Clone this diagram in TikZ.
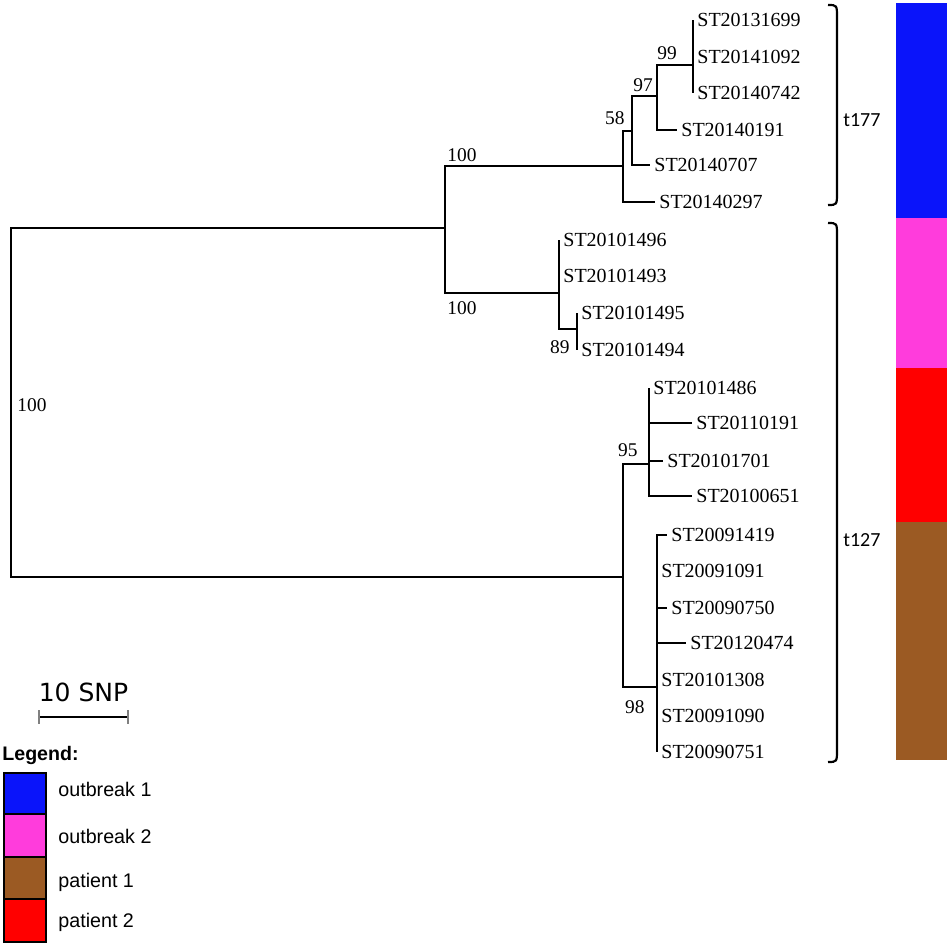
\documentclass[tikz,border=0pt]{standalone}
\usepackage{fontspec}
\setmainfont{Liberation Serif}
\newfontfamily\legfont{Liberation Sans}
\newfontfamily\typefont{Carlito}
\newfontfamily\barfont{DejaVu Sans}
\definecolor{outbrkA}{RGB}{10,20,250}
\definecolor{outbrkB}{RGB}{255,60,220}
\definecolor{patA}{RGB}{155,90,35}
\definecolor{patB}{RGB}{255,0,0}
\tikzset{
    branch/.style={line width=1pt},
    leaf/.style={anchor=west, inner sep=2pt, font=\fontsize{10}{12}\selectfont},
    bs/.style={inner sep=2pt, font=\fontsize{9.7}{11}\selectfont},
    brace/.style={line width=1.1pt},
    typelbl/.style={anchor=west, inner sep=0pt, font=\typefont\fontsize{10}{12}\selectfont},
    lgbox/.style={draw, line width=0.7pt},
    lgtext/.style={anchor=base west, inner sep=0pt, font=\legfont\fontsize{9.85}{12}\selectfont}
}

\begin{document}
\begin{tikzpicture}[x=0.5pt,y=-0.5pt]
            \useasboundingbox (0,0) rectangle (950,947);
            \coordinate (root) at (11,400);
            \coordinate (nA) at (445,228);
            \coordinate (n177) at (623,166);
            \coordinate (n58) at (632,131);
            \coordinate (n97) at (657,96);
            \coordinate (n99) at (693,65);
            \coordinate (nB) at (559,293);
            \coordinate (n89) at (577,329);
            \coordinate (n127) at (623,577);
            \coordinate (n95) at (649,464);
            \coordinate (n98) at (657,687);

            \node[leaf] (s1699) at (693,20) {ST20131699};
            \node[leaf] (s1092) at (693,57) {ST20141092};
            \node[leaf] (s0742) at (693,93) {ST20140742};
            \node[leaf] (s0191) at (677,130) {ST20140191};
            \node[leaf] (s0707) at (650,165) {ST20140707};
            \node[leaf] (s0297) at (655,202) {ST20140297};
            \node[leaf] (s1496) at (559,240) {ST20101496};
            \node[leaf] (s1493) at (559,276) {ST20101493};
            \node[leaf] (s1495) at (577,313) {ST20101495};
            \node[leaf] (s1494) at (577,350) {ST20101494};
            \node[leaf] (s1486) at (649,388) {ST20101486};
            \node[leaf] (s10191) at (692,423) {ST20110191};
            \node[leaf] (s1701) at (663,461) {ST20101701};
            \node[leaf] (s0651) at (692,496) {ST20100651};
            \node[leaf] (s1419) at (667,535) {ST20091419};
            \node[leaf] (s1091) at (657,571) {ST20091091};
            \node[leaf] (s0750) at (667,608) {ST20090750};
            \node[leaf] (s0474) at (686,643) {ST20120474};
            \node[leaf] (s1308) at (657,680) {ST20101308};
            \node[leaf] (s1090) at (657,716) {ST20091090};
            \node[leaf] (s0751) at (657,752) {ST20090751};

            \foreach \p/\c in {root/nA, root/n127, nA/n177, nA/nB, n177/n58, n58/n97,
                n97/n99, nB/n89, n127/n95, n127/n98}
                \draw[branch] (\p) |- (\c);
            \foreach \p/\c in {n99/s1699, n99/s1092, n99/s0742, n97/s0191, n58/s0707,
                n177/s0297, nB/s1496, nB/s1493, n89/s1495, n89/s1494, n95/s1486,
                n95/s10191, n95/s1701, n95/s0651, n98/s1419, n98/s1091, n98/s0750,
                n98/s0474, n98/s1308, n98/s1090, n98/s0751}
                \draw[branch] (\p) |- (\c.west);

            \node[bs, anchor=west] (b0) at (13,405) {100};
            \node[bs, anchor=south west] (bA) at (443,166) {100};
            \node[bs, anchor=north west] (bB) at (443,297) {100};
            \node[bs, anchor=south east] (b58) at (629,129) {58};
            \node[bs, anchor=south west] (b97) at (629,96) {97};
            \node[bs, anchor=south west] (b99) at (653,64) {99};
            \node[bs, anchor=east] (b89) at (574,347) {89};
            \node[bs, anchor=south east] (b95) at (642,461) {95};
            \node[bs, anchor=north east] (b98) at (649,696) {98};

            \draw[brace] (828,5) .. controls (837,5) .. (837,18) -- (837,192)
                .. controls (837,205) .. (828,205);
            \draw[brace] (828,223) .. controls (837,223) .. (837,236) -- (837,749)
                .. controls (837,762) .. (828,762);
            \node[typelbl] (t177) at (843,120) {t177};
            \node[typelbl] (t127) at (843,540) {t127};

            \fill[outbrkA] (896,3) rectangle (947,218);
            \fill[outbrkB] (896,218) rectangle (947,368);
            \fill[patB] (896,368) rectangle (947,522);
            \fill[patA] (896,522) rectangle (947,760);

            \node[font=\barfont\fontsize{12.5}{14}\selectfont, inner sep=0pt] (snp) at (83.5,692) {10 SNP};
            \draw[line width=1pt] (39,717) -- (128,717);
            \draw[gray, line width=0.8pt] (39,710) -- (39,724) (128,710) -- (128,724);

            \node[lgtext, font=\legfont\bfseries\fontsize{9.8}{12}\selectfont] (leg) at (2,761) {Legend:};
            \draw[lgbox, fill=outbrkA] (4,773) rectangle (46,814);
            \draw[lgbox, fill=outbrkB] (4,814) rectangle (46,857);
            \draw[lgbox, fill=patA] (4,857) rectangle (46,899);
            \draw[lgbox, fill=patB] (4,899) rectangle (46,942);
            \node[lgtext] (lg1) at (58,797) {outbreak 1};
            \node[lgtext] (lg2) at (58,843) {outbreak 2};
            \node[lgtext] (lg3) at (58,887) {patient 1};
            \node[lgtext] (lg4) at (58,927) {patient 2};
        \end{tikzpicture}
\end{document}
